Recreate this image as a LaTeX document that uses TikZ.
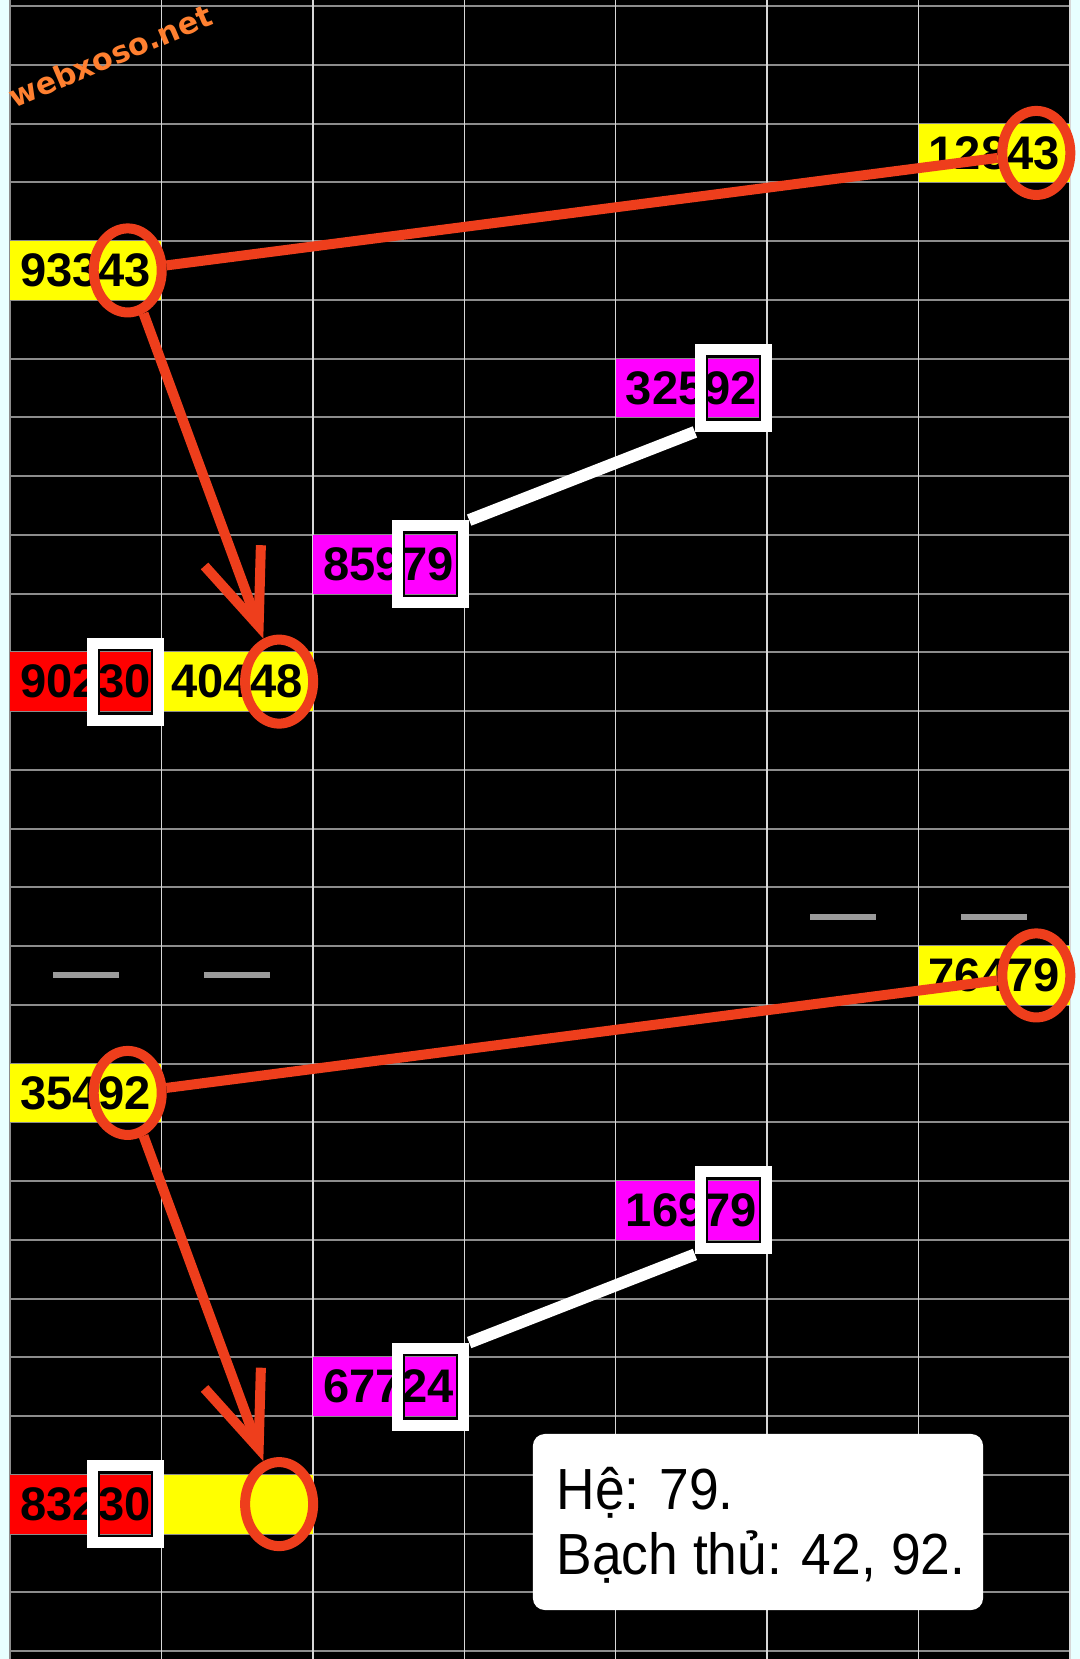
\documentclass[tikz,border=0pt]{standalone}
\usepackage{fontspec}
\setmainfont{Liberation Sans}
\newfontfamily\notefont{Liberation Sans}[FakeStretch=0.92]
\newfontfamily\wmfont{DejaVu Sans}
\usepackage{tikz}
\usetikzlibrary{arrows.meta, shapes.geometric}

\definecolor{bgcyan}{RGB}{232,255,255}
\definecolor{ringred}{RGB}{238,62,28}
\definecolor{hgrid}{RGB}{140,140,140}
\definecolor{vgrid}{RGB}{215,215,215}
\definecolor{dashgray}{RGB}{155,155,155}
\definecolor{wmorange}{RGB}{255,128,48}
\definecolor{cellyellow}{RGB}{255,255,0}
\definecolor{cellred}{RGB}{255,0,0}
\definecolor{cellpink}{RGB}{255,0,255}

\begin{document}
\begin{tikzpicture}[
  x=0.01cm, y=-0.01cm,
  every node/.style={inner sep=0pt},
  cell/.style={minimum width=1.514cm, minimum height=0.5875cm,
               font=\bfseries\fontsize{13.4pt}{16pt}\selectfont},
  ylw/.style={cell, fill=cellyellow},
  rdc/.style={cell, fill=cellred},
  mgn/.style={cell, fill=cellpink},
  ring/.style={ellipse, draw=ringred, line width=0.1cm,
               minimum width=0.68cm, minimum height=0.84cm},
  sq/.style={draw=white, line width=0.11cm,
             minimum width=0.66cm, minimum height=0.77cm,
             path picture={\draw[black, line width=0.015cm]
               ([shift={(0.065cm,-0.065cm)}]path picture bounding box.north west)
               rectangle
               ([shift={(-0.065cm,0.065cm)}]path picture bounding box.south east);}},
  blank/.style={fill=dashgray, minimum width=0.66cm, minimum height=0.06cm},
  redln/.style={ringred, line width=0.1cm},
  arr/.style={redln, -{Straight Barb[length=0.75cm, width=0.6cm]}},
  whiteln/.style={white, line width=0.12cm},
  note/.style={fill=white, rounded corners=0.12cm,
               minimum width=4.5cm, minimum height=1.76cm},
  notetxt/.style={anchor=base west, font=\notefont\fontsize{16.5pt}{18pt}\selectfont},
  wm/.style={text=wmorange, rotate=23,
             font=\wmfont\bfseries\fontsize{8.6pt}{10pt}\selectfont},
]
  \useasboundingbox (0,0) rectangle (1080,1659);

  % Board and grid
  \fill[bgcyan] (0,0) rectangle (1080,1659);
  \fill[black] (10,0) rectangle (1070,1659);
  \foreach \k in {0,...,28}
    \draw[hgrid, line width=0.02cm] (10,{6+\k*58.75}) -- (1070,{6+\k*58.75});
  \foreach \i in {1,...,6}
    \draw[vgrid, line width=0.015cm] ({10+\i*151.43},0) -- ({10+\i*151.43},1659);
  \draw[hgrid, line width=0.02cm] (10,0) -- (10,1659);
  \draw[vgrid, line width=0.015cm] (1070,0) -- (1070,1659);

  \node[wm] (site) at (110,56) {webxoso.net};

  % Upper group
  \node[ylw] (n93343) at (85.7,270.4) {93343};
  \node[ylw] (n12843) at (994.3,152.9) {12843};
  \node[mgn] (n32592) at (691.4,387.9) {32592};
  \node[mgn] (n85979) at (388.6,564.1) {85979};
  \node[rdc] (n90230) at (85.7,681.6) {90230};
  \node[ylw] (n40448) at (237.1,681.6) {40448};

  % Gaps
  \node[blank] (g1) at (842.9,916.6) {};
  \node[blank] (g2) at (994.3,916.6) {};
  \node[blank] (g3) at (85.7,975.4) {};
  \node[blank] (g4) at (237.1,975.4) {};

  % Lower group
  \node[ylw] (n76479) at (994.3,975.4) {76479};
  \node[ylw] (n35492) at (85.7,1092.9) {35492};
  \node[mgn] (n16979) at (691.4,1210.4) {16979};
  \node[mgn] (n67724) at (388.6,1386.6) {67724};
  \node[rdc] (n83230) at (85.7,1504.1) {83230};
  \node[ylw] (nempty) at (237.1,1504.1) {};

  % Rings and boxes on the last two digits
  \node[ring] (r93343) at ([xshift=0.42cm]n93343.center) {};
  \node[ring] (r12843) at ([xshift=0.42cm]n12843.center) {};
  \node[ring] (r40448) at ([xshift=0.42cm]n40448.center) {};
  \node[ring] (r76479) at ([xshift=0.42cm]n76479.center) {};
  \node[ring] (r35492) at ([xshift=0.42cm]n35492.center) {};
  \node[ring] (rempty) at ([xshift=0.42cm]nempty.center) {};
  \node[sq] (b32592) at ([xshift=0.42cm]n32592.center) {};
  \node[sq] (b85979) at ([xshift=0.42cm]n85979.center) {};
  \node[sq] (b90230) at ([xshift=0.4cm]n90230.center) {};
  \node[sq] (b16979) at ([xshift=0.42cm]n16979.center) {};
  \node[sq] (b67724) at ([xshift=0.42cm]n67724.center) {};
  \node[sq] (b83230) at ([xshift=0.4cm]n83230.center) {};

  % Links
  \draw[redln] (r93343) -- (r12843);
  \draw[arr] (r93343) -- (r40448);
  \draw[redln] (r35492) -- (r76479);
  \draw[arr] (r35492) -- (rempty);
  \draw[whiteln] (b85979.north east) -- (b32592.south west);
  \draw[whiteln] (b67724.north east) -- (b16979.south west);

  % Result
  \node[note] (res) at (758,1522) {};
  \node[notetxt] (he) at (556,1509) {Hệ: 79.};
  \node[notetxt] (bt) at (556,1574) {Bạch thủ: 42, 92.};
\end{tikzpicture}
\end{document}
